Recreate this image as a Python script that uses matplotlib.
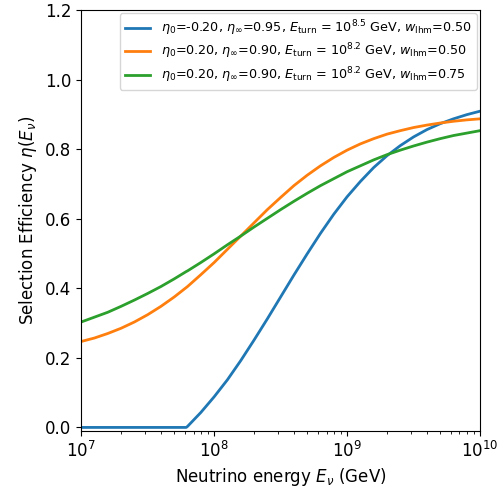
import numpy as np
import matplotlib
matplotlib.use("Agg")
import matplotlib.pyplot as plt

log_e = [7.0, 7.1, 7.2, 7.3, 7.4, 7.5, 7.6, 7.7, 7.79, 7.8, 7.9,
         8.0, 8.1, 8.2, 8.3, 8.4, 8.5, 8.6, 8.7, 8.8, 8.9,
         9.0, 9.1, 9.2, 9.3, 9.4, 9.5, 9.6, 9.7, 9.8, 9.9, 10.0]

eta_blue = [0.0, 0.0, 0.0, 0.0, 0.0, 0.0, 0.0, 0.0, 0.0, 0.003, 0.043,
            0.088, 0.137, 0.192, 0.251, 0.312, 0.375, 0.438, 0.499, 0.558, 0.613,
            0.663, 0.707, 0.747, 0.781, 0.810, 0.835, 0.856, 0.873, 0.887, 0.899, 0.909]

eta_orange = [0.247, 0.257, 0.270, 0.285, 0.303, 0.324, 0.348, 0.375, 0.402, 0.405, 0.439,
              0.474, 0.512, 0.550, 0.588, 0.626, 0.661, 0.695, 0.725, 0.752, 0.776,
              0.797, 0.815, 0.830, 0.843, 0.853, 0.862, 0.869, 0.875, 0.880, 0.884, 0.887]

eta_green = [0.303, 0.317, 0.331, 0.348, 0.366, 0.385, 0.405, 0.427, 0.448, 0.450, 0.474,
             0.499, 0.525, 0.550, 0.576, 0.601, 0.626, 0.650, 0.673, 0.695, 0.715,
             0.735, 0.752, 0.769, 0.784, 0.797, 0.809, 0.820, 0.830, 0.839, 0.846, 0.853]

labels = [
    r"$\eta_0$=-0.20, $\eta_\infty$=0.95, $E_\mathrm{turn}$ = $10^{8.5}$ GeV, $w_\mathrm{lhm}$=0.50",
    r"$\eta_0$=0.20, $\eta_\infty$=0.90, $E_\mathrm{turn}$ = $10^{8.2}$ GeV, $w_\mathrm{lhm}$=0.50",
    r"$\eta_0$=0.20, $\eta_\infty$=0.90, $E_\mathrm{turn}$ = $10^{8.2}$ GeV, $w_\mathrm{lhm}$=0.75",
]

energy = 10 ** np.array(log_e)

fig = plt.figure(figsize=(4.98, 4.97), dpi=100)
ax = fig.add_axes([0.163, 0.133, 0.801, 0.847])

ax.plot(energy, eta_blue, color="C0", lw=2, label=labels[0])
ax.plot(energy, eta_orange, color="C1", lw=2, label=labels[1])
ax.plot(energy, eta_green, color="C2", lw=2, label=labels[2])

ax.set_xscale("log")
ax.set_xlim(1e7, 1e10)
ax.set_ylim(-0.01, 1.2)
ax.set_yticks([0.0, 0.2, 0.4, 0.6, 0.8, 1.0, 1.2])
ax.tick_params(labelsize=12)
ax.set_xlabel(r"Neutrino energy $E_\nu$ (GeV)", fontsize=12)
ax.set_ylabel(r"Selection Efficiency $\eta(E_\nu)$", fontsize=12)
ax.legend(loc="upper right", fontsize=9.2, labelspacing=0.3, borderaxespad=0.25)

fig.savefig("out.png", dpi=100)
